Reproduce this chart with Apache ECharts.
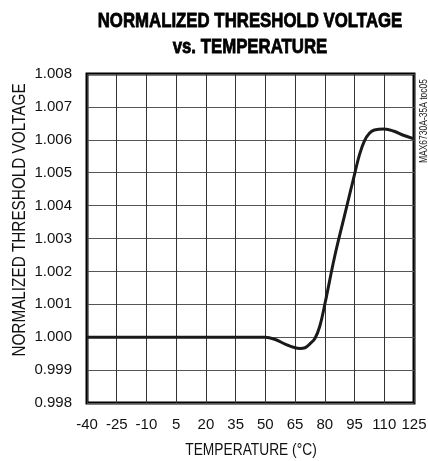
<!DOCTYPE html>
<html>
<head>
<meta charset="utf-8">
<script src="https://cdn.jsdelivr.net/npm/echarts@6/dist/echarts.min.js"></script>
<style>
  html, body { margin: 0; padding: 0; background: #fff; }
  #chart { width: 428px; height: 461px; }
</style>
</head>
<body>
<div id="chart"></div>
<script>
// temperature (°C) and normalized threshold voltage
const temps = [-40, -25, -10, 5, 20, 35, 50, 55, 60, 65, 67.5, 70, 72.5, 75, 77.5, 80, 85, 90, 95, 97.5, 100, 102.5, 105, 110, 115, 120, 125];
const voltage = [1.0, 1.0, 1.0, 1.0, 1.0, 1.0, 1.0, 0.99993, 0.99979, 0.99968, 0.99966, 0.99968, 0.9998, 0.99996, 1.00034, 1.001, 1.00246, 1.00371, 1.00495, 1.00555, 1.00597, 1.0062, 1.0063, 1.00633, 1.00626, 1.00613, 1.00603];
const xTicks = [-40, -25, -10, 5, 20, 35, 50, 65, 80, 95, 110, 125];
const yTicks = [0.998, 0.999, 1.0, 1.001, 1.002, 1.003, 1.004, 1.005, 1.006, 1.007, 1.008];

const font = "'Liberation Sans Narrow', 'Liberation Sans', Arial, sans-serif";

const renderChart = () => {
  var myChart = echarts.init(document.getElementById("chart"), null, { renderer: "canvas" });
  var option = {
    animation: false,
    grid: {
      left: 87,
      right: 14,
      top: 74,
      bottom: 58,
      outerBoundsMode: "none",
      show: true,
      borderColor: "#000",
      borderWidth: 3,
    },
    xAxis: {
      type: "value",
      min: xTicks[0],
      max: xTicks[xTicks.length - 1],
      interval: 15,
      axisLine: { show: false },
      axisTick: { show: false },
      axisLabel: { fontFamily: font, fontSize: 15, color: "#111", margin: 14 },
      splitLine: { lineStyle: { color: "#333", width: 1 } },
    },
    yAxis: {
      type: "value",
      min: yTicks[0],
      max: yTicks[yTicks.length - 1],
      interval: 0.001,
      axisLine: { show: false },
      axisTick: { show: false },
      axisLabel: {
        fontFamily: font,
        fontSize: 15,
        color: "#111",
        margin: 15,
        formatter: (v) => v.toFixed(3),
      },
      splitLine: { lineStyle: { color: "#555", width: 1 } },
    },
    // titles drawn as text so they can be squeezed like the condensed face
    graphic: [
      {
        type: "text",
        x: 250,
        y: 21,
        scaleX: 0.8,
        style: {
          text: "NORMALIZED THRESHOLD VOLTAGE",
          fontFamily: font,
          fontWeight: "bold",
          fontSize: 21,
          fill: "#000",
          stroke: "#000",
          lineWidth: 0.8,
          align: "center",
          verticalAlign: "middle",
        },
      },
      {
        type: "text",
        x: 250,
        y: 47,
        scaleX: 0.8,
        style: {
          text: "vs. TEMPERATURE",
          fontFamily: font,
          fontWeight: "bold",
          fontSize: 21,
          fill: "#000",
          stroke: "#000",
          lineWidth: 0.8,
          align: "center",
          verticalAlign: "middle",
        },
      },
      {
        type: "text",
        x: 20,
        y: 220,
        rotation: Math.PI / 2,
        scaleX: 0.85,
        style: {
          text: "NORMALIZED THRESHOLD VOLTAGE",
          fontFamily: font,
          fontSize: 18,
          fill: "#111",
          align: "center",
          verticalAlign: "middle",
        },
      },
      {
        type: "text",
        x: 251,
        y: 450,
        scaleX: 0.81,
        style: {
          text: "TEMPERATURE (°C)",
          fontFamily: font,
          fontSize: 17,
          fill: "#111",
          align: "center",
          verticalAlign: "middle",
        },
      },
      {
        type: "text",
        x: 424,
        y: 121,
        rotation: Math.PI / 2,
        scaleX: 0.85,
        style: {
          text: "MAX6730A-35A toc05",
          fontFamily: font,
          fontSize: 10,
          fill: "#222",
          align: "center",
          verticalAlign: "middle",
        },
      },
    ],
    series: [
      {
        type: "line",
        data: temps.map((t, i) => [t, voltage[i]]),
        smooth: 0.4,
        symbol: "none",
        lineStyle: { color: "#1a1a1a", width: 3 },
      },
    ],
  };
  myChart.setOption(option);
};

document.addEventListener("DOMContentLoaded", renderChart);
</script>
</body>
</html>
